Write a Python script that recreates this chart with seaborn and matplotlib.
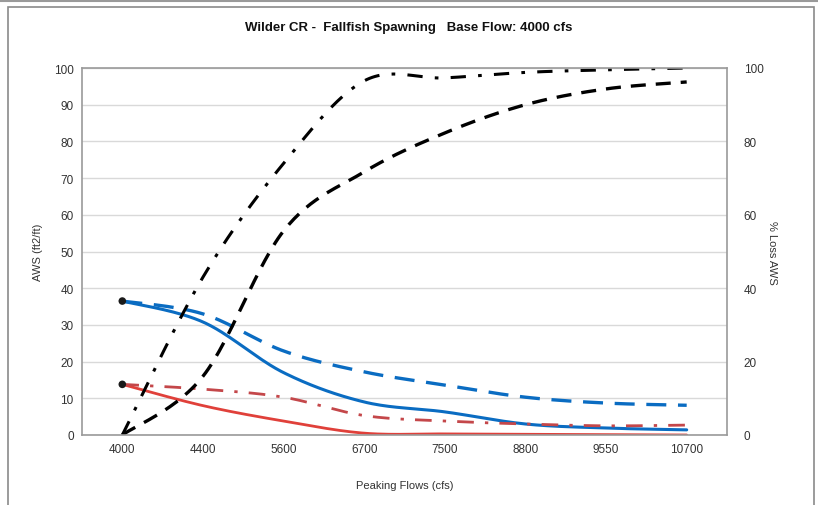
import numpy as np
import pandas as pd
import matplotlib
matplotlib.use("Agg")
import matplotlib.pyplot as plt
import seaborn as sns

# ---- data ----
categories = ["4000", "4400", "5600", "6700", "7500", "8800", "9550", "10700"]
aws_blue_solid = [36.5, 30.8, 17.0, 9.0, 6.3, 3.0, 1.9, 1.4]
aws_blue_dashed = [36.5, 33.0, 22.9, 17.2, 13.6, 10.3, 8.7, 8.1]
aws_red_solid = [13.8, 8.0, 3.8, 0.5, 0.3, 0.2, 0.1, 0.0]
aws_red_dashdot = [13.8, 12.5, 10.3, 5.3, 3.8, 3.0, 2.5, 2.7]
loss_dashed = [0.0, 16.0, 55.6, 71.7, 82.3, 90.0, 94.3, 96.2]
loss_dashdot = [0.0, 43.0, 74.0, 96.5, 97.3, 98.8, 99.5, 100.0]
left_ticks = list(range(0, 101, 10))
right_ticks = list(range(0, 101, 20))

sns.set_theme(style="white")
plt.rcParams["font.family"] = ["Liberation Sans", "DejaVu Sans"]


def smooth(y, n=30):
    """Catmull-Rom style smoothing (like Excel's smoothed line) for drawing."""
    y = np.asarray(y, float)
    x = np.arange(len(y), dtype=float)
    pts = np.column_stack([x, y])
    ext = np.vstack([pts[0], pts, pts[-1]])
    out = []
    for i in range(len(pts) - 1):
        p0, p1, p2, p3 = ext[i], ext[i + 1], ext[i + 2], ext[i + 3]
        c1 = p1 + (p2 - p0) / 6.0
        c2 = p2 - (p3 - p1) / 6.0
        t = np.linspace(0, 1, n, endpoint=(i == len(pts) - 2))[:, None]
        b = ((1 - t) ** 3) * p1 + 3 * ((1 - t) ** 2) * t * c1 + 3 * (1 - t) * t ** 2 * c2 + t ** 3 * p2
        out.append(b)
    out = np.vstack(out)
    return out[:, 0], out[:, 1]


fig = plt.figure(figsize=(8.18, 5.06), dpi=100)
ax = fig.add_axes([82 / 818, 1 - 436 / 506, (727 - 82) / 818, (436 - 69) / 506])

series = [
    (aws_blue_solid, "#0A6CC2", "-", 2.2),
    (aws_blue_dashed, "#0A6CC2", (0, (6, 3.5)), 2.4),
    (aws_red_solid, "#E0403A", "-", 2.0),
    (aws_red_dashdot, "#C4474A", (0, (6, 4, 1.2, 4)), 2.0),
    (loss_dashed, "black", (0, (4.5, 3)), 2.4),
    (loss_dashdot, "black", (0, (5, 4, 1.2, 4)), 2.2),
]
for vals, col, ls, lw in series:
    xs, ys = smooth(vals)
    df = pd.DataFrame({"x": xs, "y": ys})
    sns.lineplot(data=df, x="x", y="y", ax=ax, color=col, linestyle=ls,
                 linewidth=lw, sort=False, estimator=None, legend=False)

start = pd.DataFrame({"x": [0, 0], "y": [aws_blue_solid[0], aws_red_solid[0]]})
sns.scatterplot(data=start, x="x", y="y", ax=ax, color="#1a1a1a", s=30,
                edgecolor="none", legend=False, zorder=5)

ax.set_xlim(-0.5, len(categories) - 0.5)
ax.set_ylim(0, 100)
ax.set_yticks(left_ticks)
ax.set_xticks(range(len(categories)))
ax.set_xticklabels(categories)
ax.tick_params(axis="both", labelsize=8.5, colors="#333333", length=0, pad=6)
ax.grid(axis="y", color="#d9d9d9", linewidth=1)
ax.set_axisbelow(True)
for s in ax.spines.values():
    s.set_color("#9a9a9a")
    s.set_linewidth(1.2)
ax.set_xlabel("Peaking Flows (cfs)", fontsize=8, color="#333333", labelpad=18)
ax.set_ylabel("AWS (ft2/ft)", fontsize=8, color="#333333", labelpad=8)

ax2 = ax.twinx()
ax2.set_ylim(0, 100)
ax2.set_yticks(right_ticks)
ax2.tick_params(axis="y", labelsize=8.5, colors="#333333", length=0, pad=12)
ax2.set_ylabel("% Loss AWS", fontsize=8, color="#333333", rotation=270, labelpad=10)
for s in ax2.spines.values():
    s.set_visible(False)
ax2.grid(False)

fig.text(0.5, 1 - 28 / 506, "Wilder CR -  Fallfish Spawning   Base Flow: 4000 cfs",
         ha="center", va="center", fontsize=9.5, fontweight="bold", color="#111111")

# outer chart frame
fig.add_artist(plt.Line2D([0, 1], [1 - 1.5 / 506, 1 - 1.5 / 506], color="#9a9a9a", lw=1.5,
                          transform=fig.transFigure))
fig.add_artist(plt.Rectangle((8 / 818, -0.01), (814 - 8) / 818, 1 - 8 / 506 + 0.01,
                             fill=False, edgecolor="#8a8a8a", lw=1.2,
                             transform=fig.transFigure))

fig.savefig("out.png", dpi=100)
